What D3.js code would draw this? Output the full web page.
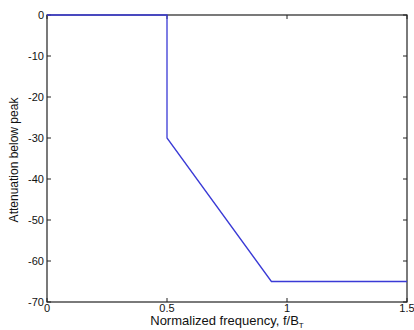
<!DOCTYPE html>
<html>
<head>
<meta charset="utf-8">
<script src="https://cdn.jsdelivr.net/npm/d3@7"></script>
<style>
  body { margin: 0; background: #fff; }
  text { font-family: "Liberation Sans", Arial, sans-serif; fill: #111; }
</style>
</head>
<body>
<div id="chart"></div>
<script>
// response curve: normalized frequency vs attenuation (dB)
var freq = [0, 0.5, 0.5, 0.935, 1.5];
var atten = [0, 0, -30, -65, -65];
var xTicks = [0, 0.5, 1, 1.5];
var yTicks = [0, -10, -20, -30, -40, -50, -60, -70];

var width = 414, height = 330;
var svg = d3.select("#chart").append("svg")
  .attr("width", width)
  .attr("height", height);

var x = d3.scaleLinear().domain([0, 1.5]).range([47, 407]);
var y = d3.scaleLinear().domain([-70, 0]).range([302, 15]);

var pts = freq.map((f, i) => [f, atten[i]]);

var line = d3.line()
  .x(d => x(d[0]))
  .y(d => y(d[1]));

// box
svg.append("rect")
  .attr("x", x(0)).attr("y", y(0))
  .attr("width", x(1.5) - x(0)).attr("height", y(-70) - y(0))
  .attr("fill", "none").attr("stroke", "#222").attr("stroke-width", 1.2);

// inward ticks on all four sides
var tk = 4;
svg.selectAll(".xt").data(xTicks).enter().append("path")
  .attr("d", d => `M${x(d)},${y(-70)}v${-tk}M${x(d)},${y(0)}v${tk}`)
  .attr("stroke", "#222");
svg.selectAll(".yt").data(yTicks).enter().append("path")
  .attr("d", d => `M${x(0)},${y(d)}h${tk}M${x(1.5)},${y(d)}h${-tk}`)
  .attr("stroke", "#222");

svg.append("path")
  .datum(pts)
  .attr("d", line)
  .attr("fill", "none")
  .attr("stroke", "#3a3ad6")
  .attr("stroke-width", 1.3);

// tick labels
svg.selectAll(".xl").data(xTicks).enter().append("text")
  .attr("x", d => x(d)).attr("y", 312)
  .attr("text-anchor", "middle")
  .attr("font-size", 11)
  .text(d => d);
svg.selectAll(".yl").data(yTicks).enter().append("text")
  .attr("x", 44).attr("y", d => y(d) + 4)
  .attr("text-anchor", "end")
  .attr("font-size", 11)
  .text(d => d);

// axis titles
var xl = svg.append("text")
  .attr("x", 227).attr("y", 325)
  .attr("text-anchor", "middle")
  .attr("font-size", 13)
  .text("Normalized frequency, f/B");
xl.append("tspan").attr("font-size", 8).attr("dy", 3).text("T");

svg.append("text")
  .attr("transform", "translate(18,160) rotate(-90)")
  .attr("text-anchor", "middle")
  .attr("font-size", 12)
  .attr("fill", "#333")
  .text("Attenuation below peak");
</script>
</body>
</html>
